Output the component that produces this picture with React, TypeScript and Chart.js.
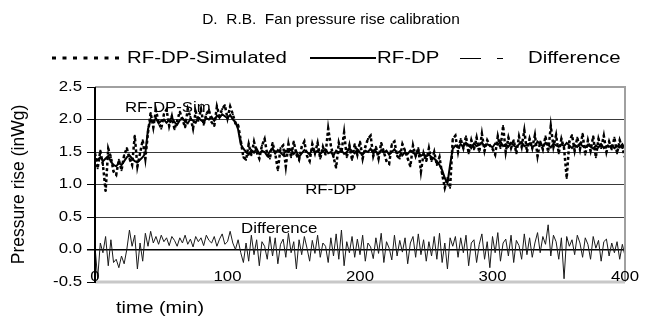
import React, { useEffect, useRef } from 'react';
import { Chart, registerables } from 'chart.js';
Chart.register(...registerables);

const TITLE = 'D.  R.B.  Fan pressure rise calibration';
const Y_TITLE = 'Pressure rise (inWg)';
const X_TITLE = 'time (min)';
const SERIES_NAMES = ['RF-DP-Simulated', 'RF-DP', 'Difference'];
const ANNOTATIONS = ['RF-DP-Sim', 'RF-DP', 'Difference'];
const TIME_STEP = 2; // minutes between samples
const Y_MIN = -0.5;
const Y_MAX = 2.5;
const Y_STEP = 0.5;
const X_MIN = 0;
const X_MAX = 400;
const X_STEP = 100;

const RF_DP_SIM = [
  1.48, 1.25, 1.52, 1.30, 0.90, 1.55, 1.42, 1.20, 1.15, 1.38, 1.22, 1.45, 1.56, 1.40, 1.30, 1.75, 1.28, 1.48, 1.68, 1.40,
  1.80, 2.10, 1.88, 2.14, 1.96, 1.86, 2.08, 2.15, 1.90, 2.05, 1.85, 1.98, 2.12, 2.00, 1.88, 2.16, 2.04, 1.86, 2.12, 1.98,
  2.16, 1.92, 2.08, 2.15, 1.96, 1.90, 2.20, 2.05, 2.16, 2.22, 2.02, 2.20, 2.08, 1.94, 1.92, 1.68, 1.42,
  1.38, 1.62, 1.45, 1.66, 1.50, 1.40, 1.60, 1.70, 1.46, 1.40,
  1.64, 1.48, 1.22, 1.56, 1.60, 1.28, 1.62, 1.42, 1.66, 1.46,
  1.38, 1.58, 1.66, 1.44, 1.36, 1.62, 1.48, 1.64, 1.40, 1.58,
  1.46, 1.86, 1.60, 1.42, 1.26, 1.64, 1.50, 1.80, 1.42, 1.60,
  1.38, 1.62, 1.46, 1.66, 1.40, 1.58, 1.70, 1.75, 1.44, 1.58,
  1.40, 1.64, 1.50, 1.36, 1.32, 1.62, 1.66, 1.44, 1.40, 1.62,
  1.52, 1.40, 1.28, 1.60, 1.44, 1.56, 1.20, 1.48, 1.36,
  1.56, 1.36, 1.50, 1.30, 1.42, 1.16, 0.95, 1.10, 0.95, 1.70,
  1.75, 1.50, 1.70, 1.56, 1.74, 1.48, 1.68, 1.54, 1.72, 1.50,
  1.78, 1.52, 1.68, 1.60, 1.55, 1.46, 1.74, 1.56, 1.90, 1.50,
  1.72, 1.56, 1.68, 1.48, 1.74, 1.58, 1.83, 1.50, 1.70, 1.56,
  1.76, 1.44, 1.66, 1.54, 1.74, 1.50, 1.90, 1.58, 1.76, 1.48,
  1.70, 1.56, 1.10, 1.66, 1.76, 1.52, 1.72, 1.54, 1.78, 1.46,
  1.68, 1.52, 1.74, 1.42, 1.70, 1.56, 1.75, 1.50, 1.66, 1.54,
  1.72, 1.48, 1.68, 1.56, 1.42,
];

const RF_DP = [
  1.40, 1.38, 1.42, 1.36, 1.40, 1.44, 1.35, 1.30, 1.28, 1.33, 1.30, 1.36, 1.42, 1.45, 1.40, 1.36, 1.34, 1.38, 1.42, 1.48,
  1.85, 2.00, 1.96, 2.02, 1.94, 1.98, 2.00, 1.95, 1.99, 2.03, 1.96, 1.92, 1.99, 2.02, 1.97, 1.94, 2.01, 1.98, 1.95, 2.03,
  1.99, 1.96, 2.02, 2.00, 2.04, 1.98, 2.06, 2.03, 2.08, 2.05, 2.02, 2.07, 2.00, 1.96, 1.85, 1.62, 1.55,
  1.50, 1.46, 1.53, 1.49, 1.55, 1.47, 1.52, 1.50, 1.44, 1.51,
  1.56, 1.48, 1.53, 1.49, 1.45, 1.52, 1.50, 1.54, 1.47, 1.51,
  1.42, 1.48, 1.53, 1.50, 1.46, 1.55, 1.49, 1.52, 1.47, 1.51,
  1.54, 1.48, 1.50, 1.45, 1.52, 1.49, 1.53, 1.47, 1.50, 1.56,
  1.51, 1.48, 1.54, 1.49, 1.46, 1.52, 1.50, 1.55, 1.48, 1.51,
  1.47, 1.53, 1.49, 1.52, 1.46, 1.50, 1.54, 1.48, 1.51, 1.45,
  1.50, 1.47, 1.52, 1.49, 1.46, 1.50, 1.44, 1.47, 1.43,
  1.46, 1.42, 1.40, 1.36, 1.30, 1.22, 1.10, 1.02, 1.30, 1.55,
  1.60, 1.57, 1.62, 1.58, 1.64, 1.60, 1.56, 1.63, 1.59, 1.61,
  1.65, 1.58, 1.62, 1.60, 1.57, 1.63, 1.61, 1.66, 1.59, 1.62,
  1.58, 1.64, 1.60, 1.57, 1.62, 1.65, 1.59, 1.61, 1.63, 1.58,
  1.60, 1.66, 1.62, 1.59, 1.64, 1.61, 1.57, 1.63, 1.60, 1.58,
  1.62, 1.59, 1.64, 1.60, 1.56, 1.61, 1.58, 1.63, 1.59, 1.57,
  1.61, 1.58, 1.55, 1.60, 1.57, 1.62, 1.56, 1.59, 1.58, 1.60,
  1.56, 1.59, 1.57, 1.62, 1.55,
];

const DIFFERENCE = [
  0.05, -0.45, 0.10, -0.05, 0.20, -0.25, 0.15, -0.20, -0.15, -0.28, -0.10, -0.22, 0.00, 0.30, 0.05, 0.22, -0.30, 0.10, -0.18, 0.25,
  0.05, 0.28, 0.10, 0.20, 0.08, 0.22, 0.12, 0.18, 0.06, 0.20, 0.14, 0.05, 0.18, 0.10, 0.22, 0.08, 0.16, 0.04, 0.20, 0.12,
  0.18, 0.06, 0.22, 0.14, 0.10, 0.20, 0.05, 0.16, 0.24, 0.08, 0.12, 0.28, 0.10, 0.00, 0.15, -0.05, -0.20,
  0.10, -0.18, 0.22, -0.08, 0.15, -0.25, 0.12, 0.05, -0.15, 0.20,
  -0.10, 0.18, -0.22, 0.08, 0.16, -0.12, 0.25, -0.05, 0.12, -0.30,
  0.15, -0.08, 0.20, 0.02, -0.18, 0.14, -0.06, 0.22, -0.12, 0.10,
  0.05, -0.20, 0.18, -0.10, 0.24, -0.15, 0.30, -0.25, 0.12, -0.05,
  0.20, -0.12, 0.16, -0.08, 0.22, -0.18, 0.10, 0.04, -0.14, 0.18,
  -0.06, 0.25, -0.20, 0.12, 0.02, -0.16, 0.22, -0.10, 0.14, -0.04,
  0.18, -0.22, 0.10, 0.20, -0.12, 0.24, -0.08, 0.15, -0.18,
  0.12, -0.10, 0.20, -0.15, 0.25, -0.20, 0.10, -0.30, 0.18, 0.05,
  0.20, -0.12, 0.18, -0.05, 0.22, -0.25, 0.10, 0.15, -0.20, 0.08,
  0.24, -0.15, 0.12, -0.28, 0.20, -0.05, 0.26, -0.18, 0.10, 0.16,
  -0.10, 0.22, -0.20, 0.14, 0.06, -0.15, 0.24, -0.08, 0.18, -0.12,
  0.10, 0.26, -0.05, 0.20, 0.08, 0.38, -0.10, 0.22, 0.12, -0.15,
  0.18, -0.45, 0.20, 0.05, 0.15, -0.08, 0.22, 0.10, -0.12, 0.18,
  0.08, -0.15, 0.20, 0.02, 0.14, -0.18, 0.12, 0.16, -0.10, 0.10,
  -0.05, 0.12, -0.15, 0.08, -0.10,
];

const FONT = "'Liberation Sans', Arial, sans-serif";

const toPoints = (arr: number[]) => arr.map((v, i) => ({ x: i * TIME_STEP, y: v }));

function wideText(
  ctx: CanvasRenderingContext2D,
  text: string,
  x: number,
  y: number,
  size: number,
  align: CanvasTextAlign,
  sx = 1.2,
) {
  ctx.save();
  ctx.font = `${size}px ${FONT}`;
  ctx.textAlign = align;
  ctx.textBaseline = 'middle';
  ctx.translate(x, y);
  ctx.scale(sx, 1);
  ctx.fillText(text, 0, 0);
  ctx.restore();
}

const extrasPlugin = {
  id: 'extras',
  afterDraw(chart: any) {
    const { ctx, chartArea: ca, scales } = chart;
    const xs = scales.x;
    const ys = scales.y;
    ctx.save();
    // plot area borders
    ctx.lineCap = 'butt';
    ctx.strokeStyle = '#a0a0a0';
    ctx.lineWidth = 2;
    ctx.beginPath();
    ctx.moveTo(ca.left, ca.top);
    ctx.lineTo(ca.right, ca.top);
    ctx.lineTo(ca.right, ca.bottom);
    ctx.stroke();
    ctx.strokeStyle = '#c8c8c8';
    ctx.lineWidth = 3;
    ctx.beginPath();
    ctx.moveTo(ca.left, ca.bottom);
    ctx.lineTo(ca.right, ca.bottom);
    ctx.stroke();
    ctx.strokeStyle = '#000';
    ctx.lineWidth = 2;
    ctx.beginPath();
    ctx.moveTo(ca.left, ca.top);
    ctx.lineTo(ca.left, ca.bottom + 1);
    ctx.stroke();

    ctx.fillStyle = '#000';

    // tick labels
    ys.ticks.forEach((t: any) => {
      wideText(ctx, Number(t.value).toFixed(1), 82, ys.getPixelForValue(t.value), 14, 'right');
    });
    xs.ticks.forEach((t: any) => {
      wideText(ctx, String(t.value), xs.getPixelForValue(t.value), ca.bottom - 5, 14, 'center');
    });

    // title
    wideText(ctx, TITLE, 331, 20, 15, 'center', 1.03);

    // legend
    const ly = 58;
    ctx.strokeStyle = '#000';
    ctx.lineWidth = 3;
    ctx.setLineDash([4, 6.5]);
    ctx.beginPath();
    ctx.moveTo(52, ly);
    ctx.lineTo(124, ly);
    ctx.stroke();
    ctx.setLineDash([]);
    ctx.lineWidth = 2;
    ctx.beginPath();
    ctx.moveTo(310, ly);
    ctx.lineTo(376, ly);
    ctx.stroke();
    ctx.lineWidth = 1;
    ctx.beginPath();
    ctx.moveTo(460, ly + 0.5);
    ctx.lineTo(481, ly + 0.5);
    ctx.moveTo(497, ly + 0.5);
    ctx.lineTo(503, ly + 0.5);
    ctx.stroke();
    wideText(ctx, SERIES_NAMES[0], 127, ly, 17, 'left');
    wideText(ctx, SERIES_NAMES[1], 377, ly, 17, 'left');
    wideText(ctx, SERIES_NAMES[2], 528, ly, 17, 'left');

    // axis titles
    wideText(ctx, X_TITLE, 160, 308, 16.5, 'center');
    ctx.save();
    ctx.font = `17.5px ${FONT}`;
    ctx.textAlign = 'center';
    ctx.textBaseline = 'middle';
    ctx.translate(19, (ca.top + ca.bottom) / 2);
    ctx.rotate(-Math.PI / 2);
    ctx.fillText(Y_TITLE, 0, 0);
    ctx.restore();

    // in-plot labels
    wideText(ctx, ANNOTATIONS[0], xs.getPixelForValue(55), ys.getPixelForValue(2.17), 14, 'center');
    wideText(ctx, ANNOTATIONS[1], xs.getPixelForValue(178), ys.getPixelForValue(0.91), 14, 'center');
    wideText(ctx, ANNOTATIONS[2], xs.getPixelForValue(139), ys.getPixelForValue(0.32), 14, 'center');
    ctx.restore();
  },
};

export default function App() {
  const ref = useRef<HTMLCanvasElement | null>(null);
  useEffect(() => {
    document.body.style.margin = '0';
    const canvas = ref.current;
    if (!canvas) return;
    const chart = new Chart(canvas, {
      type: 'line',
      data: {
        datasets: [
          {
            label: SERIES_NAMES[2],
            data: toPoints(DIFFERENCE),
            borderColor: '#1a1a1a',
            borderWidth: 1,
            pointRadius: 0,
            tension: 0,
          },
          {
            label: SERIES_NAMES[1],
            data: toPoints(RF_DP),
            borderColor: '#000',
            borderWidth: 2,
            pointRadius: 0,
            tension: 0,
          },
          {
            label: SERIES_NAMES[0],
            data: toPoints(RF_DP_SIM),
            borderColor: '#000',
            borderWidth: 2.5,
            borderDash: [3, 2.5],
            pointStyle: 'rect',
            pointRadius: 1.3,
            pointBorderWidth: 0,
            pointBackgroundColor: '#000',
            tension: 0,
          },
        ],
      },
      options: {
        animation: false,
        responsive: false,
        devicePixelRatio: 1,
        layout: { padding: { top: 87, right: 28, left: 0, bottom: 0 } },
        plugins: {
          legend: { display: false },
          title: { display: false },
          tooltip: { enabled: false },
        },
        scales: {
          x: {
            type: 'linear',
            min: X_MIN,
            max: X_MAX,
            grid: { display: false, drawTicks: false },
            border: { display: false },
            ticks: { stepSize: X_STEP, display: false },
            afterFit: (s: any) => {
              s.height = 40;
            },
          },
          y: {
            min: Y_MIN,
            max: Y_MAX,
            grid: {
              color: (c: any) => (c.tick && c.tick.value === 0 ? '#000' : c.tick && (c.tick.value === Y_MAX || c.tick.value === Y_MIN) ? 'rgba(0,0,0,0)' : '#3a3a3a'),
              lineWidth: (c: any) => (c.tick && c.tick.value === 0 ? 1.5 : 1),
              tickColor: '#000',
              tickLength: 8,
            },
            border: { display: false },
            ticks: { stepSize: Y_STEP, display: false },
            afterFit: (s: any) => {
              s.width = 95;
            },
          },
        },
      },
      plugins: [extrasPlugin],
    });
    return () => chart.destroy();
  }, []);
  return (
    <div style={{ width: 653, height: 322 }}>
      <canvas ref={ref} width={653} height={322} style={{ display: 'block' }} />
    </div>
  );
}
